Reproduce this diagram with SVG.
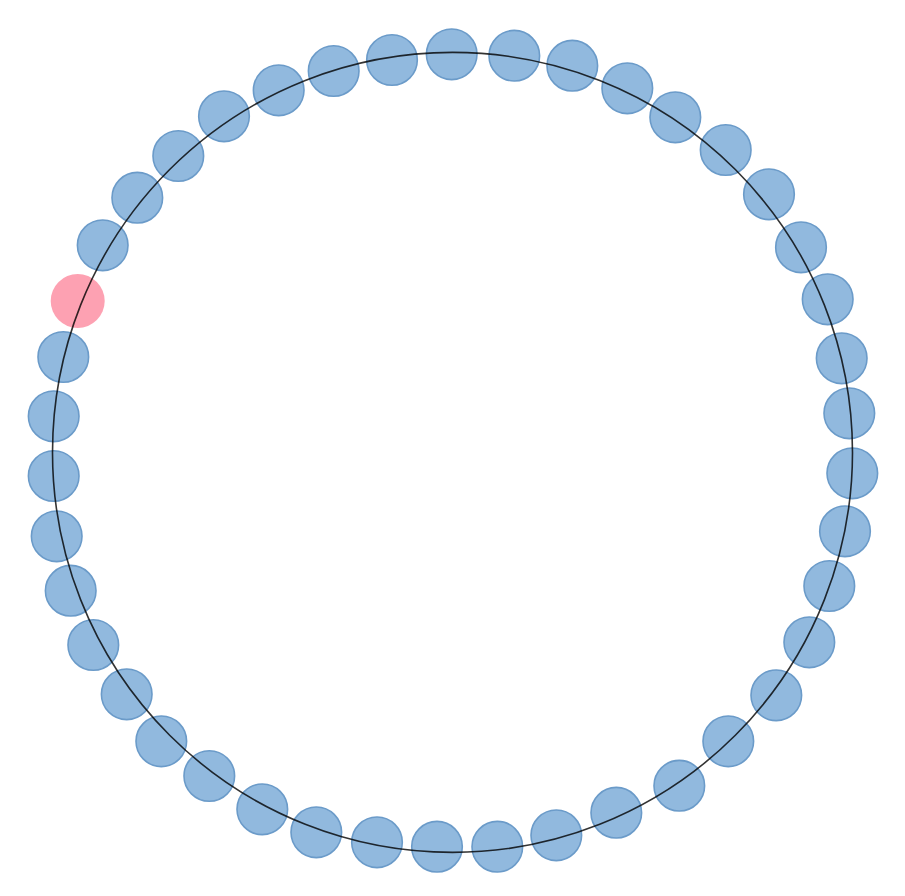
<svg xmlns="http://www.w3.org/2000/svg" width="905" height="896" viewBox="0 0 905 896">
<style>
.n{fill:#91b9de;stroke:#6b9bc9;stroke-width:1.6}
.p{fill:#fda1b2;stroke:none}
.ring{fill:none;stroke:#000;stroke-opacity:0.8;stroke-width:1.6}
</style>
<rect width="905" height="896" fill="#fff"/>
<g id="nodes">
<g id="n0"><circle class="p" cx="77.7" cy="301" r="27"/></g>
<g id="n1"><circle class="n" cx="102.7" cy="245.3" r="25.3"/></g>
<g id="n2"><circle class="n" cx="137.3" cy="197.7" r="25.3"/></g>
<g id="n3"><circle class="n" cx="178.3" cy="156" r="25.3"/></g>
<g id="n4"><circle class="n" cx="224" cy="116.3" r="25.3"/></g>
<g id="n5"><circle class="n" cx="278.7" cy="90.3" r="25.3"/></g>
<g id="n6"><circle class="n" cx="333.7" cy="71" r="25.3"/></g>
<g id="n7"><circle class="n" cx="392" cy="60" r="25.3"/></g>
<g id="n8"><circle class="n" cx="451.7" cy="54.3" r="25.3"/></g>
<g id="n9"><circle class="n" cx="514.3" cy="55.7" r="25.3"/></g>
<g id="n10"><circle class="n" cx="572.3" cy="65.7" r="25.3"/></g>
<g id="n11"><circle class="n" cx="627.3" cy="88.3" r="25.3"/></g>
<g id="n12"><circle class="n" cx="675.3" cy="117.3" r="25.3"/></g>
<g id="n13"><circle class="n" cx="725.7" cy="150" r="25.3"/></g>
<g id="n14"><circle class="n" cx="769" cy="194.3" r="25.3"/></g>
<g id="n15"><circle class="n" cx="801" cy="247.3" r="25.3"/></g>
<g id="n16"><circle class="n" cx="827.7" cy="299.3" r="25.3"/></g>
<g id="n17"><circle class="n" cx="841.7" cy="358.3" r="25.3"/></g>
<g id="n18"><circle class="n" cx="849.3" cy="413.3" r="25.3"/></g>
<g id="n19"><circle class="n" cx="852.3" cy="473.3" r="25.3"/></g>
<g id="n20"><circle class="n" cx="845" cy="531.3" r="25.3"/></g>
<g id="n21"><circle class="n" cx="829.3" cy="586" r="25.3"/></g>
<g id="n22"><circle class="n" cx="809.3" cy="642.3" r="25.3"/></g>
<g id="n23"><circle class="n" cx="776.3" cy="695.3" r="25.3"/></g>
<g id="n24"><circle class="n" cx="728.3" cy="741.3" r="25.3"/></g>
<g id="n25"><circle class="n" cx="679.3" cy="785.7" r="25.3"/></g>
<g id="n26"><circle class="n" cx="616.3" cy="812.7" r="25.3"/></g>
<g id="n27"><circle class="n" cx="556.3" cy="835.3" r="25.3"/></g>
<g id="n28"><circle class="n" cx="497.3" cy="846.7" r="25.3"/></g>
<g id="n29"><circle class="n" cx="437" cy="846.7" r="25.3"/></g>
<g id="n30"><circle class="n" cx="377" cy="842.3" r="25.3"/></g>
<g id="n31"><circle class="n" cx="316.3" cy="832.3" r="25.3"/></g>
<g id="n32"><circle class="n" cx="262.3" cy="809.3" r="25.3"/></g>
<g id="n33"><circle class="n" cx="209.3" cy="776" r="25.3"/></g>
<g id="n34"><circle class="n" cx="161.3" cy="741.3" r="25.3"/></g>
<g id="n35"><circle class="n" cx="126.7" cy="694.3" r="25.3"/></g>
<g id="n36"><circle class="n" cx="93.3" cy="645" r="25.3"/></g>
<g id="n37"><circle class="n" cx="70.7" cy="590.7" r="25.3"/></g>
<g id="n38"><circle class="n" cx="56.7" cy="536.3" r="25.3"/></g>
<g id="n39"><circle class="n" cx="53.7" cy="476" r="25.3"/></g>
<g id="n40"><circle class="n" cx="53.7" cy="416.3" r="25.3"/></g>
<g id="n41"><circle class="n" cx="63.3" cy="357" r="25.3"/></g>
</g>
<g id="connectors">
<circle class="ring" cx="452.5" cy="452.4" r="400"/>
</g>
</svg>
